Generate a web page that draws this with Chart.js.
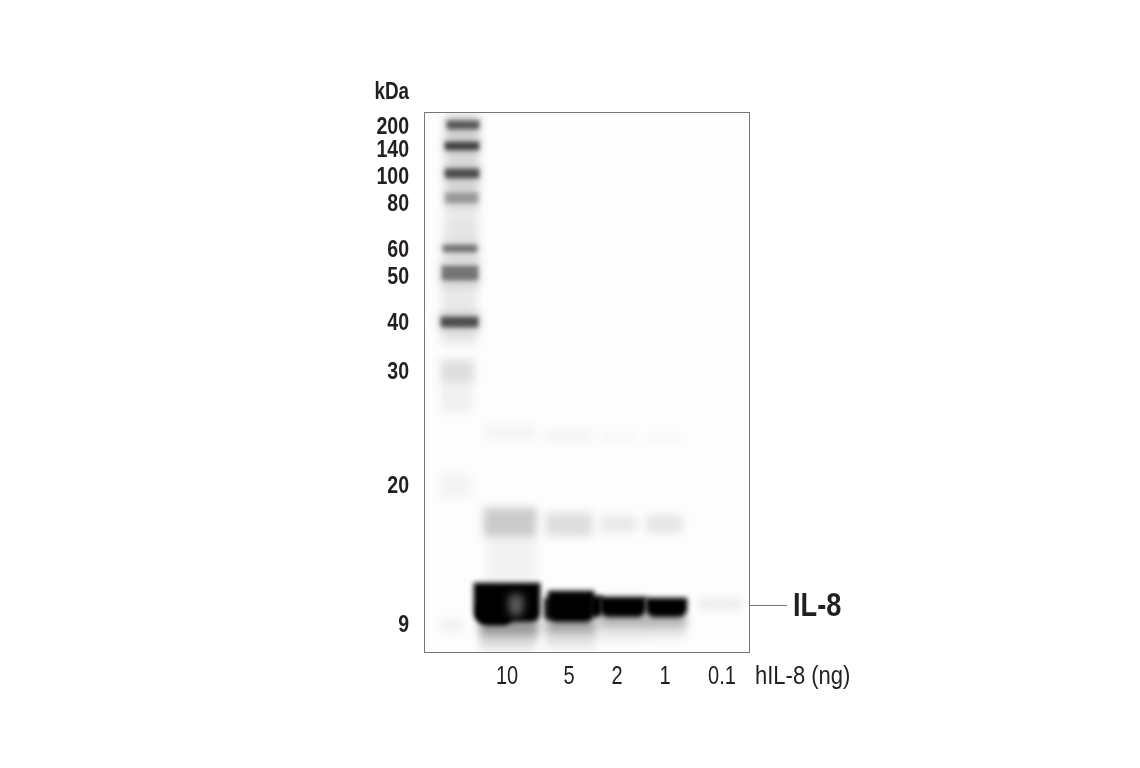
<!DOCTYPE html>
<html lang="en">
<head>
    <meta charset="UTF-8">
    <title>IL-8 western blot</title>
    <script src="https://cdn.jsdelivr.net/npm/chart.js"></script>
    <style>
        body { margin: 0; background: #fff; }
    </style>
</head>
<body>
    <canvas id="blot" width="1140" height="768"></canvas>

    <script>
        // Ladder labels and how far each one migrated down the membrane
        const markerKDa = [200, 140, 100, 80, 60, 50, 40, 30, 20, 9];
        const markerDistance = [14, 37, 64, 91, 137, 164, 210, 259, 373, 512];

        // Sample lanes along the membrane
        const laneLabels = ["10", "5", "2", "1", "0.1"];
        const lanePosition = [83, 145, 193, 241, 298];
        const targetDistance = 493;

        // Bands: lateral extent, migration extent, signal (0-1)
        const bandLeft = [22, 21, 20, 18, 17, 17, 16, 21, 19, 19, 19, 17, 16, 15, 23, 21, 21, 21, 19, 18, 17, 18,
            60, 62, 62, 56, 56, 56, 50, 54,
            122, 122, 122, 122, 122, 124, 166, 120,
            176, 176, 176, 176, 176, 176,
            222, 222, 222, 222, 222, 222,
            274];
        const bandRight = [54, 54, 54, 53, 50, 48, 46, 57, 57, 57, 56, 55, 56, 56, 55, 55, 55, 54, 53, 54, 54, 38,
            112, 112, 112, 114, 114, 112, 116, 88,
            168, 168, 172, 172, 172, 170, 178, 130,
            212, 212, 222, 222, 222, 222,
            258, 258, 262, 262, 262, 263,
            318];
        const bandTop = [4, 90, 110, 168, 248, 270, 362, 5, 26, 53, 77, 130, 149, 201, 9, 30, 57, 81, 133, 154, 205, 508,
            396, 313, 424, 508, 510, 526, 471, 492,
            401, 318, 508, 508, 520, 479, 484, 486,
            404, 320, 503, 503, 515, 485,
            403, 320, 503, 503, 515, 486,
            488];
        const bandBottom = [90, 110, 150, 233, 270, 300, 386, 21, 42, 70, 95, 143, 173, 219, 17, 38, 66, 91, 140, 168, 215, 520,
            424, 328, 470, 520, 527, 538, 510, 513,
            424, 330, 516, 522, 535, 510, 505, 508,
            420, 330, 511, 516, 528, 505,
            421, 330, 511, 516, 526, 505,
            496];
        const bandSignal = [0.12, 0.08, 0.09, 0.08, 0.12, 0.05, 0.035, 0.12, 0.12, 0.12, 0.08, 0.08, 0.15, 0.15, 0.55, 0.65, 0.6, 0.26, 0.45, 0.45, 0.6, 0.05,
            0.2, 0.03, 0.04, 0.24, 0.24, 0.1, 1, 1,
            0.12, 0.03, 0.2, 0.24, 0.1, 1, 1, 0.8,
            0.08, 0.02, 0.15, 0.2, 0.08, 1,
            0.09, 0.02, 0.15, 0.2, 0.08, 1,
            0.08];

        // Burned-out centre of the overloaded 10 ng band: extent and remaining grey level
        const burnoutX = 92;
        const burnoutHalfWidth = 7;
        const burnoutExtent = [483, 504];
        const burnoutGrey = 95;

        const sansFont = "'Liberation Sans', sans-serif";
        const inkColor = "#231f20";

        // Each band is a floating bar, softened with a blur while it is drawn
        const datasets = bandSignal.map(function (signal, i) {
            return {
                label: "band " + i,
                data: [{ x: (bandLeft[i] + bandRight[i]) / 2, y: [bandTop[i], bandBottom[i]] }],
                barThickness: bandRight[i] - bandLeft[i],
                backgroundColor: "rgba(0,0,0," + signal + ")",
                borderWidth: 0,
                borderRadius: signal > 0.7 ? 9 : 2,
                grouped: false
            };
        });
        // order -1 puts the burnout on top of the black band
        datasets.push({
            label: "burnout",
            data: [{ x: burnoutX, y: burnoutExtent }],
            barThickness: burnoutHalfWidth * 2,
            backgroundColor: "rgb(" + burnoutGrey + "," + burnoutGrey + "," + burnoutGrey + ")",
            borderWidth: 0,
            borderRadius: 7,
            grouped: false,
            order: -1
        });

        const blurPlugin = {
            id: "blur",
            beforeDatasetDraw(chart, args) {
                const signal = bandSignal[args.index];
                let blur = 4;
                if (signal > 0.7) blur = 2.8;
                else if (signal >= 0.25) blur = 2.2;
                chart.ctx.save();
                chart.ctx.filter = "blur(" + blur + "px)";
            },
            afterDatasetDraw(chart) {
                chart.ctx.restore();
            }
        };

        // No condensed font is installed, so labels are squeezed horizontally
        function drawLabel(ctx, text, x, y, font, align, squeeze) {
            ctx.save();
            ctx.translate(x, y);
            ctx.scale(squeeze, 1);
            ctx.font = font;
            ctx.textAlign = align;
            ctx.textBaseline = "middle";
            ctx.fillStyle = inkColor;
            ctx.fillText(text, 0, 0);
            ctx.restore();
        }

        // Membrane frame, target leader line and all text
        const framePlugin = {
            id: "frame",
            beforeDatasetsDraw(chart) {
                const a = chart.chartArea, ctx = chart.ctx;
                ctx.save();
                ctx.fillStyle = "#fdfdfd";
                ctx.fillRect(a.left, a.top, a.width, a.height);
                ctx.restore();
            },
            afterDraw(chart) {
                const a = chart.chartArea, ctx = chart.ctx;
                const xScale = chart.scales.x, yScale = chart.scales.y;
                const targetY = yScale.getPixelForValue(targetDistance);
                ctx.save();
                ctx.strokeStyle = "#777";
                ctx.lineWidth = 1;
                ctx.strokeRect(a.left + 0.5, a.top + 0.5, a.width, a.height);
                ctx.beginPath();
                ctx.moveTo(a.right, targetY + 0.5);
                ctx.lineTo(a.right + 38, targetY + 0.5);
                ctx.stroke();
                ctx.restore();

                yScale.ticks.forEach(function (tick) {
                    drawLabel(ctx, tick.label, a.left - 15, yScale.getPixelForValue(tick.value) + 2,
                        "bold 23px " + sansFont, "right", 0.85);
                });
                xScale.ticks.forEach(function (tick) {
                    drawLabel(ctx, tick.label, xScale.getPixelForValue(tick.value), a.bottom + 25.5,
                        "25px " + sansFont, "center", 0.8);
                });
                drawLabel(ctx, "kDa", a.left - 15, a.top - 19.5, "bold 23px " + sansFont, "right", 0.82);
                drawLabel(ctx, "IL-8", a.right + 44, targetY + 1.5, "bold 34px " + sansFont, "left", 0.8);
                drawLabel(ctx, "hIL-8 (ng)", a.right + 6, a.bottom + 25.5, "25px " + sansFont, "left", 0.88);
            }
        };

        new Chart(document.getElementById("blot"), {
            type: "bar",
            data: { datasets: datasets },
            options: {
                responsive: false,
                animation: false,
                layout: { padding: { left: 0, top: 112, right: 391, bottom: 56 } },
                plugins: { legend: { display: false }, tooltip: { enabled: false } },
                scales: {
                    x: {
                        type: "linear",
                        offset: false,
                        min: 0,
                        max: 325,
                        grid: { display: false, drawTicks: false },
                        border: { display: false },
                        afterFit: function (scale) { scale.height = 60; },
                        afterBuildTicks: function (scale) {
                            scale.ticks = lanePosition.map(function (v) { return { value: v }; });
                        },
                        ticks: {
                            display: false,
                            autoSkip: false,
                            callback: function (value) { return laneLabels[lanePosition.indexOf(value)]; }
                        }
                    },
                    y: {
                        type: "linear",
                        reverse: true,
                        min: 0,
                        max: 540,
                        grid: { display: false, drawTicks: false },
                        border: { display: false },
                        afterFit: function (scale) { scale.width = 424; },
                        afterBuildTicks: function (scale) {
                            scale.ticks = markerDistance.map(function (v) { return { value: v }; });
                        },
                        ticks: {
                            display: false,
                            autoSkip: false,
                            callback: function (value) { return markerKDa[markerDistance.indexOf(value)]; }
                        }
                    }
                }
            },
            plugins: [blurPlugin, framePlugin]
        });
    </script>
</body>
</html>
